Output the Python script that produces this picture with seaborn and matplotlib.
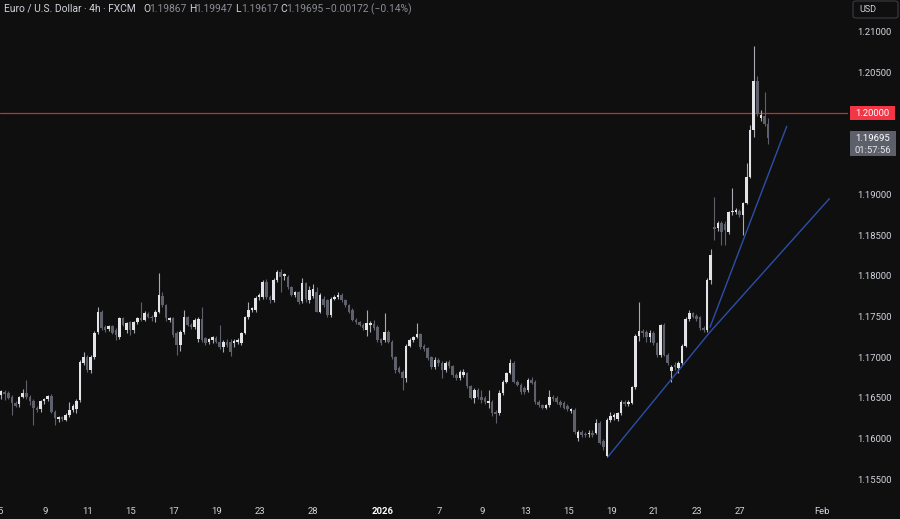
import numpy as np
import pandas as pd
import matplotlib
matplotlib.use("Agg")
import matplotlib.pyplot as plt
from matplotlib.patches import Rectangle, FancyBboxPatch
import seaborn as sns

# ---------------- data (EUR/USD, 4h candles) ----------------
opens = [
    1.1654, 1.1657, 1.1656, 1.1651, 1.1644, 1.1642, 1.1651, 1.1656, 1.1651, 1.1646,
    1.1638, 1.1636, 1.1646, 1.1648, 1.1652, 1.1633, 1.1624, 1.1626, 1.1623, 1.1629,
    1.1635, 1.1636, 1.1647, 1.1693, 1.1700, 1.1684, 1.1700, 1.1731, 1.1756, 1.1737,
    1.1735, 1.1738, 1.1733, 1.1725, 1.1748, 1.1733, 1.1743, 1.1733, 1.1743, 1.1748,
    1.1746, 1.1753, 1.1750, 1.1749, 1.1756, 1.1775, 1.1764, 1.1746, 1.1748, 1.1730,
    1.1715, 1.1731, 1.1749, 1.1740, 1.1737, 1.1722, 1.1747, 1.1723, 1.1719, 1.1721,
    1.1724, 1.1719, 1.1713, 1.1719, 1.1719, 1.1717, 1.1719, 1.1717, 1.1730, 1.1749,
    1.1758, 1.1758, 1.1774, 1.1774, 1.1793, 1.1774, 1.1770, 1.1795, 1.1805, 1.1800,
    1.1799, 1.1786, 1.1777, 1.1780, 1.1769, 1.1791, 1.1770, 1.1775, 1.1780, 1.1756,
    1.1772, 1.1770, 1.1752, 1.1772, 1.1774, 1.1777, 1.1770, 1.1764, 1.1758, 1.1746,
    1.1743, 1.1740, 1.1733, 1.1740, 1.1741, 1.1737, 1.1722, 1.1721, 1.1731, 1.1719,
    1.1700, 1.1687, 1.1682, 1.1674, 1.1714, 1.1721, 1.1725, 1.1728, 1.1714, 1.1711,
    1.1700, 1.1688, 1.1696, 1.1693, 1.1684, 1.1694, 1.1689, 1.1678, 1.1674, 1.1678,
    1.1680, 1.1664, 1.1650, 1.1660, 1.1651, 1.1650, 1.1644, 1.1645, 1.1633, 1.1631,
    1.1656, 1.1670, 1.1681, 1.1693, 1.1670, 1.1666, 1.1662, 1.1660, 1.1672, 1.1670,
    1.1645, 1.1641, 1.1638, 1.1641, 1.1651, 1.1650, 1.1645, 1.1644, 1.1640, 1.1634,
    1.1635, 1.1601, 1.1608, 1.1606, 1.1605, 1.1607, 1.1607, 1.1619, 1.1597, 1.1579,
    1.1623, 1.1626, 1.1624, 1.1631, 1.1645, 1.1642, 1.1644, 1.1663, 1.1726, 1.1732,
    1.1731, 1.1725, 1.1730, 1.1717, 1.1703, 1.1740, 1.1703, 1.1683, 1.1690, 1.1687,
    1.1693, 1.1714, 1.1747, 1.1754, 1.1751, 1.1749, 1.1736, 1.1733, 1.1795, 1.1860,
    1.1859, 1.1865, 1.1864, 1.1854, 1.1878, 1.1879, 1.1880, 1.1875, 1.1890, 1.1922,
    1.1979, 1.2040, 1.1994, 1.1997, 1.19867,
]
highs = [
    1.1660, 1.1660, 1.1658, 1.1653, 1.1646, 1.1652, 1.1661, 1.1672, 1.1653, 1.1648,
    1.1640, 1.1647, 1.1650, 1.1654, 1.1655, 1.1635, 1.1628, 1.1628, 1.1631, 1.1645,
    1.1642, 1.1649, 1.1697, 1.1706, 1.1703, 1.1703, 1.1732, 1.1762, 1.1758, 1.1740,
    1.1740, 1.1740, 1.1736, 1.1749, 1.1750, 1.1743, 1.1745, 1.1745, 1.1750, 1.1768,
    1.1757, 1.1756, 1.1752, 1.1758, 1.1804, 1.1780, 1.1766, 1.1750, 1.1750, 1.1732,
    1.1733, 1.1758, 1.1751, 1.1742, 1.1748, 1.1749, 1.1762, 1.1725, 1.1724, 1.1726,
    1.1726, 1.1740, 1.1721, 1.1722, 1.1722, 1.1722, 1.1724, 1.1731, 1.1751, 1.1768,
    1.1762, 1.1775, 1.1779, 1.1795, 1.1796, 1.1776, 1.1797, 1.1807, 1.1808, 1.1804,
    1.1801, 1.1788, 1.1782, 1.1782, 1.1797, 1.1793, 1.1787, 1.1790, 1.1786, 1.1779,
    1.1775, 1.1772, 1.1774, 1.1776, 1.1780, 1.1779, 1.1772, 1.1766, 1.1760, 1.1748,
    1.1745, 1.1742, 1.1758, 1.1744, 1.1746, 1.1739, 1.1724, 1.1754, 1.1733, 1.1721,
    1.1702, 1.1689, 1.1684, 1.1716, 1.1723, 1.1726, 1.1742, 1.1730, 1.1716, 1.1713,
    1.1702, 1.1700, 1.1699, 1.1695, 1.1695, 1.1697, 1.1691, 1.1680, 1.1684, 1.1685,
    1.1682, 1.1666, 1.1662, 1.1662, 1.1660, 1.1652, 1.1660, 1.1647, 1.1635, 1.1660,
    1.1672, 1.1682, 1.1698, 1.1695, 1.1672, 1.1668, 1.1664, 1.1674, 1.1676, 1.1672,
    1.1647, 1.1643, 1.1643, 1.1660, 1.1653, 1.1652, 1.1647, 1.1646, 1.1642, 1.1638,
    1.1637, 1.1610, 1.1610, 1.1608, 1.1610, 1.1610, 1.1624, 1.1622, 1.1599, 1.1625,
    1.1633, 1.1631, 1.1633, 1.1647, 1.1647, 1.1647, 1.1665, 1.1728, 1.1768, 1.1735,
    1.1733, 1.1733, 1.1732, 1.1719, 1.1741, 1.1742, 1.1705, 1.1690, 1.1694, 1.1695,
    1.1716, 1.1749, 1.1758, 1.1756, 1.1753, 1.1751, 1.1738, 1.1797, 1.1833, 1.1897,
    1.1868, 1.1868, 1.1867, 1.1880, 1.1908, 1.1884, 1.1882, 1.1891, 1.1939, 1.1986,
    1.2083, 1.2046, 1.2004, 1.2026, 1.19947,
]
lows = [
    1.1648, 1.1647, 1.1649, 1.1629, 1.1639, 1.1639, 1.1650, 1.1648, 1.1641, 1.1617,
    1.1632, 1.1633, 1.1643, 1.1646, 1.1631, 1.1617, 1.1620, 1.1621, 1.1621, 1.1627,
    1.1633, 1.1631, 1.1645, 1.1690, 1.1682, 1.1681, 1.1698, 1.1729, 1.1734, 1.1731,
    1.1732, 1.1728, 1.1721, 1.1722, 1.1738, 1.1730, 1.1727, 1.1730, 1.1741, 1.1744,
    1.1744, 1.1748, 1.1744, 1.1743, 1.1754, 1.1762, 1.1745, 1.1743, 1.1725, 1.1703,
    1.1708, 1.1729, 1.1738, 1.1735, 1.1735, 1.1719, 1.1719, 1.1715, 1.1716, 1.1718,
    1.1717, 1.1710, 1.1706, 1.1712, 1.1702, 1.1713, 1.1716, 1.1715, 1.1728, 1.1747,
    1.1755, 1.1755, 1.1770, 1.1771, 1.1771, 1.1767, 1.1768, 1.1793, 1.1780, 1.1795,
    1.1784, 1.1775, 1.1774, 1.1765, 1.1767, 1.1768, 1.1767, 1.1773, 1.1755, 1.1754,
    1.1762, 1.1750, 1.1750, 1.1770, 1.1772, 1.1768, 1.1762, 1.1754, 1.1744, 1.1741,
    1.1738, 1.1734, 1.1726, 1.1731, 1.1734, 1.1719, 1.1715, 1.1719, 1.1717, 1.1698,
    1.1681, 1.1680, 1.1660, 1.1670, 1.1712, 1.1719, 1.1723, 1.1710, 1.1708, 1.1697,
    1.1686, 1.1686, 1.1689, 1.1674, 1.1682, 1.1687, 1.1676, 1.1672, 1.1672, 1.1676,
    1.1662, 1.1648, 1.1644, 1.1649, 1.1644, 1.1643, 1.1637, 1.1628, 1.1619, 1.1629,
    1.1654, 1.1668, 1.1679, 1.1668, 1.1664, 1.1655, 1.1655, 1.1657, 1.1667, 1.1643,
    1.1639, 1.1636, 1.1636, 1.1639, 1.1646, 1.1643, 1.1639, 1.1636, 1.1634, 1.1631,
    1.1605, 1.1597, 1.1602, 1.1602, 1.1602, 1.1602, 1.1605, 1.1593, 1.1586, 1.1577,
    1.1620, 1.1623, 1.1622, 1.1629, 1.1640, 1.1640, 1.1642, 1.1661, 1.1720, 1.1725,
    1.1719, 1.1719, 1.1715, 1.1700, 1.1700, 1.1701, 1.1690, 1.1670, 1.1684, 1.1681,
    1.1691, 1.1712, 1.1745, 1.1748, 1.1744, 1.1734, 1.1731, 1.1731, 1.1790, 1.1844,
    1.1855, 1.1838, 1.1838, 1.1852, 1.1875, 1.1876, 1.1873, 1.1850, 1.1888, 1.1920,
    1.1971, 1.1997, 1.1991, 1.1984, 1.19617,
]
closes = [
    1.1659, 1.1655, 1.1650, 1.1644, 1.1640, 1.1651, 1.1656, 1.1651, 1.1646, 1.1638,
    1.1635, 1.1646, 1.1648, 1.1652, 1.1633, 1.1625, 1.1626, 1.1624, 1.1629, 1.1635,
    1.1640, 1.1646, 1.1694, 1.1700, 1.1684, 1.1700, 1.1730, 1.1756, 1.1736, 1.1733,
    1.1738, 1.1730, 1.1727, 1.1748, 1.1740, 1.1742, 1.1733, 1.1743, 1.1748, 1.1746,
    1.1754, 1.1750, 1.1748, 1.1756, 1.1777, 1.1764, 1.1748, 1.1748, 1.1727, 1.1715,
    1.1731, 1.1749, 1.1740, 1.1737, 1.1746, 1.1747, 1.1721, 1.1717, 1.1722, 1.1725,
    1.1719, 1.1713, 1.1719, 1.1715, 1.1706, 1.1720, 1.1721, 1.1730, 1.1749, 1.1758,
    1.1760, 1.1773, 1.1777, 1.1793, 1.1774, 1.1770, 1.1795, 1.1805, 1.1799, 1.1802,
    1.1786, 1.1777, 1.1780, 1.1768, 1.1791, 1.1771, 1.1783, 1.1784, 1.1756, 1.1777,
    1.1764, 1.1752, 1.1772, 1.1774, 1.1777, 1.1770, 1.1764, 1.1756, 1.1746, 1.1743,
    1.1740, 1.1736, 1.1742, 1.1742, 1.1736, 1.1721, 1.1717, 1.1731, 1.1719, 1.1700,
    1.1684, 1.1682, 1.1674, 1.1714, 1.1721, 1.1725, 1.1728, 1.1712, 1.1710, 1.1699,
    1.1688, 1.1697, 1.1693, 1.1684, 1.1693, 1.1689, 1.1678, 1.1674, 1.1682, 1.1682,
    1.1664, 1.1650, 1.1660, 1.1651, 1.1647, 1.1645, 1.1646, 1.1631, 1.1630, 1.1656,
    1.1670, 1.1681, 1.1693, 1.1670, 1.1666, 1.1657, 1.1657, 1.1672, 1.1668, 1.1645,
    1.1641, 1.1638, 1.1641, 1.1651, 1.1649, 1.1645, 1.1641, 1.1638, 1.1636, 1.1636,
    1.1608, 1.1608, 1.1604, 1.1604, 1.1607, 1.1604, 1.1619, 1.1595, 1.1590, 1.1623,
    1.1628, 1.1629, 1.1631, 1.1645, 1.1642, 1.1645, 1.1663, 1.1726, 1.1732, 1.1730,
    1.1725, 1.1730, 1.1717, 1.1703, 1.1740, 1.1703, 1.1693, 1.1688, 1.1688, 1.1693,
    1.1714, 1.1747, 1.1754, 1.1750, 1.1747, 1.1736, 1.1733, 1.1795, 1.1826, 1.1858,
    1.1865, 1.1854, 1.1856, 1.1879, 1.1880, 1.1881, 1.1875, 1.1890, 1.1922, 1.1979,
    1.2040, 1.2000, 1.1998, 1.1987, 1.19695,
]

# date axis (candle index where each labelled trading day starts)
date_labels = ["5", "9", "11", "15", "17", "19", "23", "28", "2026", "7",
               "9", "13", "15", "19", "21", "23", "27", "Feb"]
date_index = [-0.3, 12.2, 24.2, 36.2, 48.2, 60.2, 72.2, 87.0, 106.3, 122.2,
              134.2, 146.2, 158.2, 170.2, 182.2, 194.2, 206.2, 229.1]

# price scale labels (1.195 lies under the last-price tag)
price_ticks = [1.155, 1.160, 1.165, 1.170, 1.175, 1.180, 1.185, 1.190,
               1.200, 1.205, 1.210]

level_price = 1.2000
last_price = 1.19695
countdown = "01:57:56"

# trend lines drawn on the chart (candle index, price)
trend_low_x = [169.4, 197.8, 231.1]
trend_low_y = [1.1578, 1.1731, 1.1895]
trend_steep_x = [197.8, 219.2]
trend_steep_y = [1.1737, 1.1984]

header_title = "Euro / U.S. Dollar \u00b7 4h \u00b7 FXCM"
header_ohlc = [("O", "1.19867"), ("H", "1.19947"), ("L", "1.19617"), ("C", "1.19695")]
header_change = "\u22120.00172 (\u22120.14%)"

# ---------------- style ----------------
BG = "#0f0f0f"
BULL_BODY = "#e3e4e8"
BEAR_BODY = "#5e616b"
BULL_WICK = "#a9abb2"
BEAR_WICK = "#5e616b"
TEXT = "#d1d4dc"
DIM = "#8a8d95"

sns.set_theme(style="dark", rc={
    "axes.facecolor": BG, "figure.facecolor": BG, "savefig.facecolor": BG,
    "axes.grid": False, "axes.edgecolor": BG,
})
plt.rcParams["font.family"] = ["Roboto", "DejaVu Sans"]

n = len(closes)
assert len(opens) == n and len(highs) == n and len(lows) == n

df = pd.DataFrame({"idx": np.arange(n), "open": opens, "high": highs,
                   "low": lows, "close": closes})
df["bull"] = df["close"] >= df["open"]
df["bottom"] = df[["open", "close"]].min(axis=1)
df["height"] = (df["close"] - df["open"]).abs().clip(lower=0.00012)

W, H = 900, 519
fig = plt.figure(figsize=(W / 100, H / 100), dpi=100)
ax = fig.add_axes([0, 23 / H, 848 / W, 496 / H])
ax.set_facecolor(BG)

ax.set_xlim(-0.33, 236.3)
ax.set_ylim(1.152927, 1.213936)

# wicks and bodies
ax.vlines(df["idx"], df["low"], df["high"],
          colors=np.where(df["bull"], BULL_WICK, BEAR_WICK), linewidth=0.8, zorder=2)
ax.bar(df["idx"], df["height"], bottom=df["bottom"], width=0.72,
       color=np.where(df["bull"], BULL_BODY, BEAR_BODY), linewidth=0, zorder=3)

# horizontal level
ax.axhline(level_price, color="#c0303c", linewidth=0.9, zorder=1)

# trend lines
sns.lineplot(x=trend_low_x, y=trend_low_y, ax=ax, color="#2b4fa8",
             linewidth=1.0, sort=False, estimator=None, zorder=4)
sns.lineplot(x=trend_steep_x, y=trend_steep_y, ax=ax, color="#2b4fa8",
             linewidth=1.0, sort=False, estimator=None, zorder=4)

# axes
for s in ax.spines.values():
    s.set_visible(False)
ax.yaxis.tick_right()
ax.set_yticks(price_ticks)
ax.set_yticklabels([f"{v:.5f}" for v in price_ticks])
ax.tick_params(axis="y", length=0, pad=6.3, labelsize=6.8, colors=TEXT)
ax.set_xticks(date_index)
ax.set_xticklabels(date_labels)
ax.tick_params(axis="x", length=0, pad=8, labelsize=6.8, colors=TEXT)
for lab in ax.get_xticklabels():
    if lab.get_text() == "2026":
        lab.set_fontweight("bold")
        lab.set_color("#ffffff")
ax.set_xlabel("")
ax.set_ylabel("")


def fig_y(price):
    disp = ax.transData.transform((0, price))
    return fig.transFigure.inverted().transform(disp)[1]


# level label (red)
fy = fig_y(level_price)
fig.add_artist(Rectangle((850 / W, fy - 7 / H), 45 / W, 14 / H,
                         transform=fig.transFigure, facecolor="#f23645",
                         edgecolor="none", zorder=5))
fig.text(872.5 / W, fy, f"{level_price:.5f}", ha="center", va="center",
         color="white", fontsize=6.8, zorder=6)

# last price label (gray)
fy = fig_y(last_price)
fig.add_artist(Rectangle((850 / W, fy - 18 / H), 46 / W, 25 / H,
                         transform=fig.transFigure, facecolor="#5d606b",
                         edgecolor="none", zorder=5))
fig.text(873 / W, fy, f"{last_price:.5f}", ha="center", va="center",
         color="white", fontsize=6.8, zorder=6)
fig.text(873 / W, fy - 12 / H, countdown, ha="center", va="center",
         color="#e6e7ea", fontsize=6.8, zorder=6)

# currency box
fig.add_artist(FancyBboxPatch((853 / W, 1 - 18 / H), 45 / W, 17 / H,
                              boxstyle="round,pad=0,rounding_size=0.004",
                              transform=fig.transFigure, facecolor=BG,
                              edgecolor="#3a3c44", linewidth=0.8, zorder=5))
fig.text(868 / W, 1 - 9.5 / H, "USD", ha="center", va="center",
         color=TEXT, fontsize=6.5, zorder=6)

# header
HFS = 7.4
hy = 1 - 9 / H
fig.text(4 / W, hy, header_title, ha="left", va="center", color=TEXT, fontsize=HFS)
letter_x = [143, 189, 235, 280]
for (letter, val), lx in zip(header_ohlc, letter_x):
    fig.text(lx / W, hy, letter, ha="left", va="center", color=TEXT, fontsize=HFS)
    fig.text((lx + 6) / W, hy, val, ha="left", va="center", color=DIM, fontsize=HFS)
fig.text(325 / W, hy, header_change, ha="left", va="center", color=DIM, fontsize=HFS)

fig.savefig("out.png", dpi=100, facecolor=BG)
